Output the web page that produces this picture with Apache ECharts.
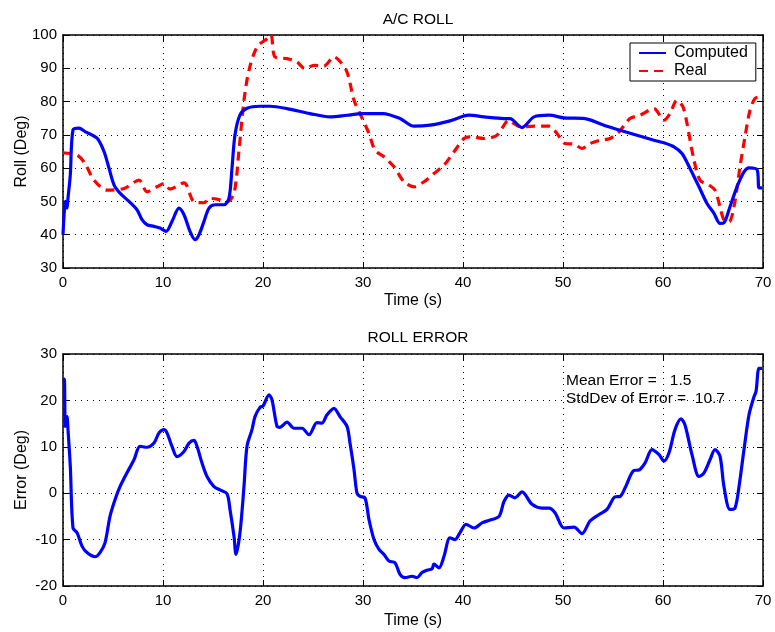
<!DOCTYPE html>
<html><head><meta charset="utf-8">
<script src="https://cdn.jsdelivr.net/npm/echarts@6/dist/echarts.min.js"></script>
<style>html,body{margin:0;padding:0;background:#fff}#c{width:775px;height:632px}</style>
</head><body><div id="c"></div>
<script>
// ---- Data ----
var computedT = [0,0.13,0.23,0.4,0.5,0.73,1.0,1.6,2.2,3.4,4.1,4.6,5.1,5.7,6.6,7.4,7.9,8.4,9.1,9.7,10.3,10.9,11.6,12.1,12.7,13.2,13.6,14.1,14.6,15.2,16.1,16.6,16.9,17.2,17.7,18.4,19.7,20.7,22.4,24.7,26.7,28.4,30,32,33.7,35.1,36.7,38.7,40.6,42.1,44.1,44.7,45.9,47.1,48.6,50.1,52.2,54.1,55.7,57.4,59.1,60.1,61.1,61.9,62.7,63.6,64.4,65.1,65.7,66.1,66.7,67.4,68.1,68.6,69.4,69.6,69.9];
var computedV = [40,47,50,48,51,58,71.5,72,71,69,65,60,55,52.5,50,47.5,44.5,43,42.5,42,41,44,48,46,41,38.5,40,44,48,49,49,51,60,70,76,78,78.6,78.6,77.9,76.4,75.4,75.9,76.4,76.4,74.9,72.6,72.9,74.2,75.9,75.4,74.9,74.9,72.2,75.4,75.9,75.1,74.9,72.9,71.4,69.9,68.4,67.6,66.4,64.4,59.9,54.4,49.4,46.4,43.4,43.6,48.4,54.4,58.9,60.1,59.6,54.1,54.1];

var realT = [0,1.4,2.2,3.1,4.4,6.1,7.6,8.4,9.4,10.1,10.7,12.1,13.1,14.1,14.6,15.4,16.4,17.1,17.6,18.1,18.6,19.4,20.4,20.8,21.2,22.4,23.4,24.2,25.1,26.1,27.1,27.6,28.4,29.1,29.7,30.6,31.2,32.1,33.1,34.1,35.1,36.1,37.1,38.1,39.1,40.1,40.7,42.1,43.4,44.6,45.1,45.8,47.1,48.6,49.4,50.2,51.1,51.9,52.7,53.7,54.7,55.6,56.7,57.7,59.1,60.1,60.7,61.4,62.0,62.4,63.1,63.7,64.6,65.2,65.7,66.1,66.6,67.1,67.7,68.2,68.7,69.2,69.7,70];
var realV = [64.6,63.9,61.4,56.4,53.4,53.9,56.4,52.9,54.4,55.4,53.7,55.6,49.9,49.6,50.9,50.7,49.9,52.4,65.4,80.4,89.4,96.4,98.9,100,93.4,92.9,91.9,89.9,90.9,90.7,93.4,92.4,88.9,80.4,76.4,70.4,65.4,63.4,60.4,55.9,54.4,55.9,58.4,60.9,64.9,68.9,69.4,68.9,69.9,74.4,73.4,72.4,72.6,72.6,70.4,67.4,67.2,65.9,67.4,68.4,68.9,70.9,74.9,75.9,77.9,74.4,76.4,80.4,78.4,73.4,62.4,56.4,54.9,53.4,48.4,44.4,43.9,48.4,60.4,69.4,77.4,80.9,81.4,81.4];

var errorT = [0,0.13,0.23,0.4,0.5,0.73,1.0,1.4,1.9,2.4,3.2,3.7,4.2,4.7,5.2,5.7,6.4,7.1,7.7,8.4,9.1,9.6,10.1,10.4,10.9,11.4,12.1,12.6,13.1,13.4,13.9,14.4,15.1,15.7,16.4,16.7,17.1,17.3,17.7,18.1,18.4,18.9,19.2,19.7,20.0,20.6,20.9,21.4,21.7,22.4,23.1,23.9,24.6,25.4,25.9,26.4,27.1,27.7,28.4,28.7,29.1,29.4,29.7,30.2,30.6,31.1,31.6,32.1,32.6,33.2,33.7,34.2,34.9,35.4,35.9,36.4,36.9,37.1,37.6,38.1,38.7,39.2,39.7,40.3,41.1,41.9,42.7,43.6,44.1,44.6,45.2,45.9,46.9,47.9,48.6,49.2,50.1,51.1,51.9,52.7,53.6,54.4,55.2,55.7,56.2,57.1,57.6,58.2,58.9,59.6,60.1,60.6,61.2,61.8,62.2,62.9,63.6,64.1,64.7,65.2,65.7,66.1,66.7,67.2,67.6,68.1,68.6,69.1,69.3,69.6,69.9];
var errorV = [24.4,24.6,14.4,16.5,13.7,5.8,-7.5,-8.5,-11.4,-12.8,-13.7,-12.8,-10.7,-5,-1.4,1.4,4.4,7.2,10.1,9.9,10.8,13,13.7,13,10.1,7.9,9,10.8,11.4,10.1,6.5,3.6,1.4,0.7,-0.1,-3.5,-9.3,-13.2,-8.5,1.5,10.1,13.7,16.5,18.5,18.8,21.2,20.1,14.4,14.2,15.3,14,14,12.6,15.2,15.1,16.9,18.3,16.5,14.4,10.8,5.1,0,-0.7,-1,-5.7,-10,-12.1,-13.2,-14.6,-15,-17.5,-18.2,-17.9,-18.2,-17.1,-16.6,-16.3,-15.3,-16.1,-13.6,-9.6,-10,-8.5,-6.7,-7.5,-6.4,-5.8,-5,-1.8,-0.4,-1,0.3,-2.4,-3.2,-3.2,-4.2,-7.5,-7.3,-8.7,-6,-4.6,-3.5,-0.8,-0.7,1.1,4.9,5,6.5,9.4,8.3,6.9,8.7,13.7,16,14.7,8.3,3.6,4.4,7.2,9.4,8,1.4,-3.5,-3.2,1.4,9.4,16.9,20.8,21.9,26.9,26.9];

var xTicks = [0, 70, 10];
var rollTicks = [30, 100, 10];
var errTicks = [-20, 30, 10];
var titles = ['A/C ROLL', 'ROLL ERROR'];
var annotLines = ['Mean Error =   1.5', 'StdDev of Error =  10.7'];

function zip(a, b) { return a.map(function (t, i) { return [t, b[i]]; }); }

var FONT = 'Liberation Sans';
var tickTxt = { fontFamily: FONT, fontSize: 15, color: '#000' };
var nameTxt = { fontFamily: FONT, fontSize: 16, color: '#000' };

function makeX(gi, name, gap) {
  return [{
    gridIndex: gi, type: 'value', min: xTicks[0], max: xTicks[1], interval: xTicks[2], position: 'bottom',
    name: name, nameLocation: 'middle', nameGap: gap, nameTextStyle: nameTxt, nameMoveOverlap: false,
    axisLine: { onZero: false, lineStyle: { color: '#000', width: 1.5 } },
    axisTick: { inside: true, length: 6, lineStyle: { color: '#000' } },
    axisLabel: Object.assign({ margin: 7, hideOverlap: false }, tickTxt),
    splitLine: { show: true, lineStyle: { color: '#000', type: [1, 5], width: 1 } }
  }, {
    gridIndex: gi, type: 'value', min: xTicks[0], max: xTicks[1], interval: xTicks[2], position: 'top',
    axisLine: { onZero: false, lineStyle: { color: '#000', width: 1.5 } },
    axisTick: { inside: true, length: 6, lineStyle: { color: '#000' } },
    axisLabel: { show: false }, splitLine: { show: false }
  }];
}
function makeY(gi, tk, name) {
  return [{
    gridIndex: gi, type: 'value', min: tk[0], max: tk[1], interval: tk[2], position: 'left',
    name: name, nameLocation: 'middle', nameGap: 33, nameRotate: 90, nameTextStyle: nameTxt, nameMoveOverlap: false,
    axisLine: { show: true, onZero: false, lineStyle: { color: '#000', width: 1.5 } },
    axisTick: { show: true, inside: true, length: 6, lineStyle: { color: '#000' } },
    axisLabel: Object.assign({ margin: 6 }, tickTxt),
    splitLine: { show: true, lineStyle: { color: '#000', type: [1, 5], width: 1 } }
  }, {
    gridIndex: gi, type: 'value', min: tk[0], max: tk[1], interval: tk[2], position: 'right',
    axisLine: { show: true, onZero: false, lineStyle: { color: '#000', width: 1.5 } },
    axisTick: { show: true, inside: true, length: 6, lineStyle: { color: '#000' } },
    axisLabel: { show: false }, splitLine: { show: false }
  }];
}

var chart = echarts.init(document.getElementById('c'), null, { renderer: 'canvas' });
chart.setOption({
  backgroundColor: '#fff',
  animation: false,
  textStyle: { fontFamily: FONT },
  title: [
    { text: titles[0], left: 413, top: 7, textAlign: 'center', textStyle: { fontFamily: FONT, fontSize: 15.5, fontWeight: 'normal', color: '#000' } },
    { text: titles[1], left: 413, top: 325, textAlign: 'center', textStyle: { fontFamily: FONT, fontSize: 15.5, fontWeight: 'normal', color: '#000' } }
  ],
  grid: [
    { left: 63, top: 35, width: 700, height: 233, outerBoundsMode: 'none', containLabel: false },
    { left: 63, top: 354, width: 700, height: 232, outerBoundsMode: 'none', containLabel: false }
  ],
  legend: {
    left: 630, top: 43, orient: 'vertical', backgroundColor: '#fff', borderColor: '#000', borderWidth: 1,
    padding: [2, 8, 2, 8], itemGap: 2, itemWidth: 27, itemHeight: 16,
    itemStyle: { color: 'transparent', borderColor: 'transparent', borderWidth: 0 },
    textStyle: { fontFamily: FONT, fontSize: 16, color: '#000', padding: [0, 0, 0, 3] },
    data: ['Computed', 'Real']
  },
  xAxis: makeX(0, 'Time (s)', 25).concat(makeX(1, 'Time (s)', 27)),
  yAxis: makeY(0, rollTicks, 'Roll (Deg)').concat(makeY(1, errTicks, 'Error (Deg)')),
  graphic: [
    { type: 'text', left: 566, top: 373, style: { text: annotLines[0], fontFamily: FONT, fontSize: 15.5, fill: '#000' } },
    { type: 'text', left: 566, top: 391, style: { text: annotLines[1], fontFamily: FONT, fontSize: 15.5, fill: '#000' } }
  ],
  series: [
    { name: 'Computed', type: 'line', xAxisIndex: 0, yAxisIndex: 0, data: zip(computedT, computedV), symbol: 'none', smooth: 0.3,
      lineStyle: { color: '#0000ff', width: 3.2 }, itemStyle: { color: '#0000ff' }, z: 3 },
    { name: 'Real', type: 'line', xAxisIndex: 0, yAxisIndex: 0, data: zip(realT, realV), symbol: 'none', smooth: 0.3,
      lineStyle: { color: '#ff0000', width: 3.2, type: [9, 6] }, itemStyle: { color: '#ff0000' }, z: 2 },
    { name: 'Error', type: 'line', xAxisIndex: 2, yAxisIndex: 2, data: zip(errorT, errorV), symbol: 'none', smooth: 0.3,
      lineStyle: { color: '#0000ff', width: 3.2 }, itemStyle: { color: '#0000ff' } }
  ]
});
</script></body></html>
